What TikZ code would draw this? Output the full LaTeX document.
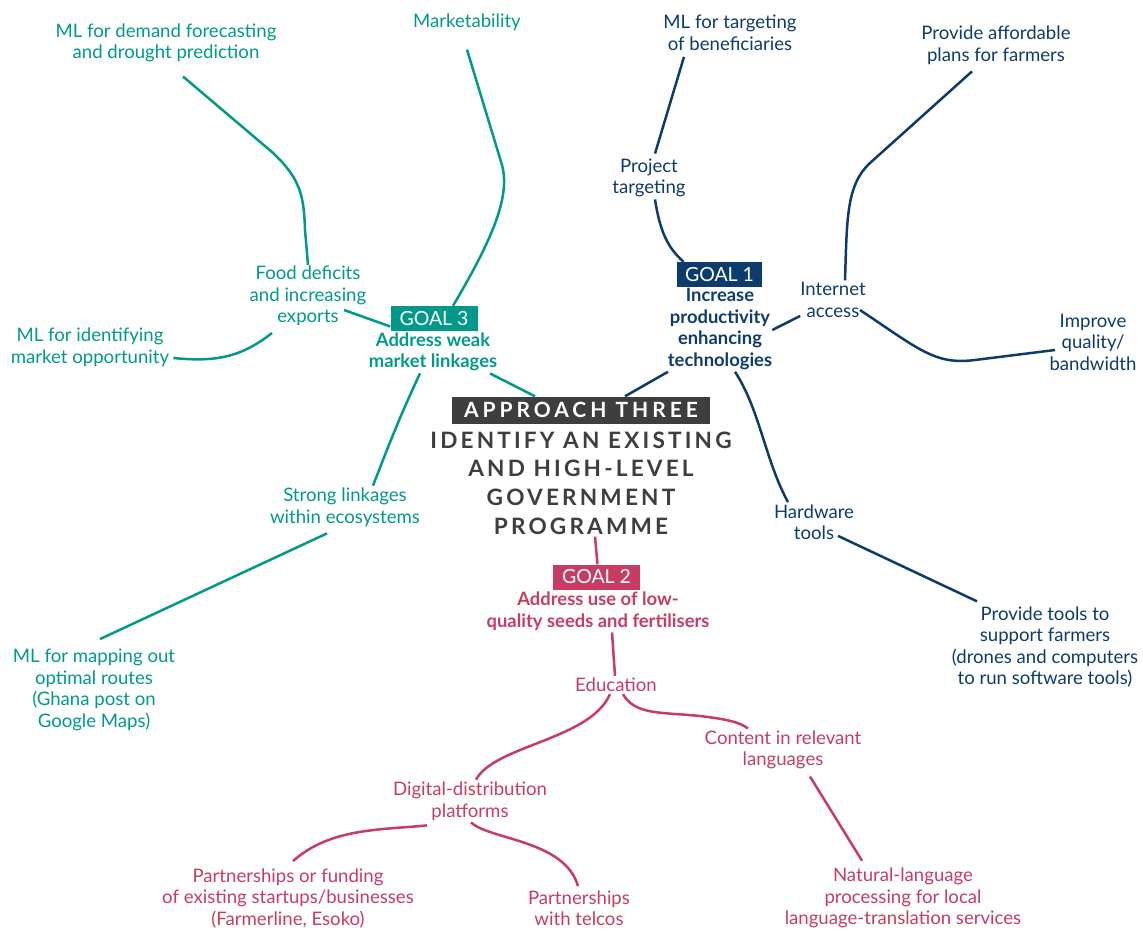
\documentclass[tikz,border=0pt]{standalone}
\usepackage{fontspec}
\setmainfont{Lato}
\newfontfamily\capsfont{Lato}[LetterSpace=14]
\newfontfamily\capsfontw{Lato}[LetterSpace=19]
\definecolor{cteal}{HTML}{00998A}
\definecolor{cnavy}{HTML}{0D3B6E}
\definecolor{cpink}{HTML}{C63C62}
\definecolor{cgrey}{HTML}{3E3E3E}
\begin{document}
\begin{tikzpicture}[x=1pt,y=-1pt,
  lbl/.style={align=center, inner sep=2pt, font=\fontsize{18.6}{21.5}\selectfont},
  tl/.style={lbl, text=cteal},
  nl/.style={lbl, text=cnavy},
  pl/.style={lbl, text=cpink},
  gdesc/.style={align=center, inner sep=2pt, font=\bfseries\fontsize{18.4}{21.5}\selectfont, text=#1},
  gbox/.style={fill=#1, text=white, font=\fontsize{19.5}{21}\selectfont, minimum width=87pt, minimum height=25pt, inner sep=0pt},
  conn/.style={line width=2.5pt, draw=#1}
]
\useasboundingbox (0,0) rectangle (1143,930);
% ---------- central ----------
\node[fill=cgrey, text=white, minimum width=258pt, minimum height=27pt, inner sep=0pt,
      font=\capsfontw\bfseries\fontsize{21}{22}\selectfont] (app) at (581,410) {APPROACH THREE};
\node[align=center, inner sep=2pt, text=cgrey, font=\capsfont\bfseries\fontsize{22.6}{28.7}\selectfont] (idt) at (581,483)
  {IDENTIFY AN EXISTING\\AND HIGH-LEVEL\\GOVERNMENT\\PROGRAMME};
% ---------- goal 3 (teal) ----------
\node[gbox=cteal] (g3box) at (434,318.5) {GOAL 3};
\node[gdesc=cteal] (g3txt) at (433,352) {Address weak\\market linkages};
\node[tl] (fcst) at (166,43) {ML for demand forecasting\\and drought prediction};
\node[tl] (mkt) at (467,22) {Marketability};
\node[tl] (food) at (308,296) {Food deficits\\and increasing\\exports};
\node[tl] (mlid) at (90,347) {ML for identifying\\market opportunity};
\node[tl] (strong) at (345,507) {Strong linkages\\within ecosystems};
\node[tl] (mlmap) at (94,690) {ML for mapping out\\optimal routes\\(Ghana post on\\Google Maps)};
% ---------- goal 1 (navy) ----------
\node[gbox=cnavy, minimum width=85pt] (g1box) at (719.5,274.5) {GOAL 1};
\node[gdesc=cnavy] (g1txt) at (720,329) {Increase\\productivity\\enhancing\\technologies};
\node[nl] (mltg) at (730,33) {ML for targeting\\of beneficiaries};
\node[nl] (afford) at (996,45) {Provide affordable\\plans for farmers};
\node[nl] (projt) at (649,178) {Project\\targeting};
\node[nl] (inet) at (833,300) {Internet\\access};
\node[nl] (improve) at (1093,342) {Improve\\quality/\\bandwidth};
\node[nl] (hw) at (814,522) {Hardware\\tools};
\node[nl] (tools) at (1045,647) {Provide tools to\\support farmers\\(drones and computers\\to run software tools)};
% ---------- goal 2 (pink) ----------
\node[gbox=cpink] (g2box) at (596.5,577) {GOAL 2};
\node[gdesc=cpink] (g2txt) at (598,611) {Address use of low-\\quality seeds and fertilisers};
\node[pl] (edu) at (616,685) {Education};
\node[pl] (content) at (783,750) {Content in relevant\\languages};
\node[pl] (digital) at (470,801) {Digital-distribution\\platforms};
\node[pl] (pfund) at (288,898) {Partnerships or funding\\of existing startups/businesses\\(Farmerline, Esoko)};
\node[pl] (ptel) at (579,908) {Partnerships\\with telcos};
\node[pl] (nat) at (903,898) {Natural-language\\processing for local\\language-translation services};
% ---------- teal connectors ----------
\draw[conn=cteal] ([xshift=17pt,yshift=-12pt]fcst.south) -- (272,152)
   .. controls (300,178) and (304,195) .. (305,230) -- ([yshift=-1pt]food.north);
\draw[conn=cteal] ([yshift=-17pt]mkt.south) -- (502,165)
   .. controls (510,195) and (495,235) .. ([xshift=19pt]g3box.north);
\draw[conn=cteal] ([xshift=36pt,yshift=-14pt]food.center) -- ([yshift=-8pt]g3box.west);
\draw[conn=cteal] ([xshift=-36pt,yshift=-37pt]food.center) .. controls (240,358) and (215,362) .. ([xshift=2pt,yshift=-11pt]mlid.east);
\draw[conn=cteal] ([xshift=57pt]g3txt.south) -- ([xshift=-46pt]app.north);
\draw[conn=cteal] ([xshift=-13pt]g3txt.south) .. controls (398,420) and (385,455) .. ([xshift=28pt]strong.north);
\draw[conn=cteal] ([xshift=-18pt,yshift=-5pt]strong.south) -- ([xshift=6pt,yshift=8pt]mlmap.north);
% ---------- navy connectors ----------
\draw[conn=cnavy] ([xshift=6pt,yshift=3pt]projt.north) -- ([xshift=-46pt,yshift=-4pt]mltg.south);
\draw[conn=cnavy] ([xshift=6pt]projt.south) .. controls (660,232) and (668,248) .. ([xshift=-36pt]g1box.north);
\draw[conn=cnavy] ([xshift=-52pt]g1txt.south) -- ([xshift=44pt]app.north);
\draw[conn=cnavy] ([xshift=-2pt,yshift=-1pt]g1txt.east) -- ([xshift=2pt,yshift=-16pt]inet.west);
\draw[conn=cnavy] ([xshift=12pt]inet.north) .. controls (847,220) and (846,185) .. (870,163) -- ([xshift=-24pt,yshift=-5pt]afford.south);
\draw[conn=cnavy] ([xshift=27pt,yshift=-10pt]inet.center) .. controls (920,350) and (935,365) .. (975,360) -- ([xshift=-38pt,yshift=-8pt]improve.center);
\draw[conn=cnavy] ([xshift=15pt]g1txt.south) .. controls (760,410) and (765,460) .. ([xshift=-26pt]hw.north);
\draw[conn=cnavy] ([xshift=24pt,yshift=6pt]hw.south) -- ([xshift=-68pt,yshift=3pt]tools.north);
% ---------- pink connectors ----------
\draw[conn=cpink] ([xshift=14pt]idt.south) -- ([xshift=1pt]g2box.north);
\draw[conn=cpink] ([xshift=14pt]g2txt.south) -- ([xshift=-1pt]edu.north);
\draw[conn=cpink] ([xshift=-6pt]edu.south) .. controls (590,740) and (495,745) .. ([xshift=6pt]digital.north);
\draw[conn=cpink] ([xshift=7pt]edu.south) .. controls (635,715) and (660,712) .. (700,716)
   .. controls (725,719) and (740,722) .. ([xshift=-35pt]content.north);
\draw[conn=cpink] ([xshift=27pt,yshift=-5pt]content.south) -- ([xshift=-41pt,yshift=5pt]nat.north);
\draw[conn=cpink] ([xshift=-43pt,yshift=-3pt]digital.south) .. controls (380,830) and (330,828) .. ([xshift=5pt,yshift=5pt]pfund.north);
\draw[conn=cpink] ([xshift=1pt]digital.south) .. controls (490,840) and (565,840) .. ([xshift=-1pt,yshift=2pt]ptel.north);
\end{tikzpicture}
\end{document}
